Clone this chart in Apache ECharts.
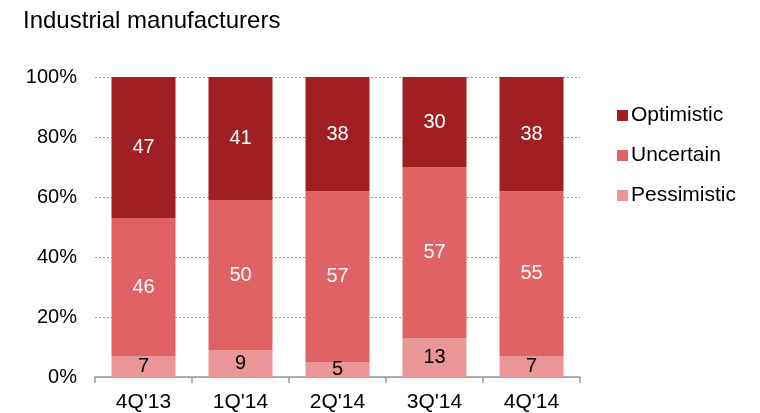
<!DOCTYPE html>
<html>
<head>
<meta charset="utf-8">
<script src="https://cdn.jsdelivr.net/npm/echarts@6/dist/echarts.min.js"></script>
<style>
  html, body { margin: 0; padding: 0; background: #fff; }
  #chart { width: 760px; height: 413px; }
</style>
</head>
<body>
<div id="chart"></div>
<script>
// Industrial manufacturers outlook by quarter (share of respondents, %)
const quarters = ["4Q'13", "1Q'14", "2Q'14", "3Q'14", "4Q'14"];
const pessimistic = [7, 9, 5, 13, 7];
const uncertain = [46, 50, 57, 57, 55];
const optimistic = [47, 41, 38, 30, 38];
const yTicks = [0, 20, 40, 60, 80, 100];

const FONT = 'Liberation Sans, Arial, sans-serif';
const COLORS = { opt: '#9F1F22', unc: '#DF6265', pes: '#EA9597' };

function barSeries(name, data, color, labelColor) {
  return {
    name: name,
    type: 'bar',
    stack: 'total',
    barWidth: 64,
    data: data,
    itemStyle: { color: color },
    label: {
      show: true,
      position: 'inside',
      color: labelColor,
      fontFamily: FONT,
      fontSize: 20
    },
    emphasis: { disabled: true }
  };
}

const chart = echarts.init(document.getElementById('chart'), null, { renderer: 'canvas' });
chart.setOption({
  animation: false,
  title: {
    text: 'Industrial manufacturers',
    left: 18,
    top: 4,
    textStyle: { fontFamily: FONT, fontSize: 24, fontWeight: 'normal', color: '#000' }
  },
  legend: {
    orient: 'vertical',
    left: 612,
    top: 100,
    itemWidth: 11,
    itemHeight: 11,
    itemGap: 19,
    icon: 'rect',
    data: ['Optimistic', 'Uncertain', 'Pessimistic'],
    textStyle: { fontFamily: FONT, fontSize: 21, color: '#000', padding: [0, 0, 0, -2], lineHeight: 20 }
  },
  grid: { left: 95, right: 180, top: 77, bottom: 36 },
  xAxis: {
    type: 'category',
    data: quarters,
    axisLine: { lineStyle: { color: '#999999', width: 1.5 } },
    axisTick: { show: true, length: 6, lineStyle: { color: '#999999', width: 1.5 } },
    axisLabel: { color: '#000', fontFamily: FONT, fontSize: 21, margin: 15 }
  },
  yAxis: {
    type: 'value',
    min: yTicks[0],
    max: yTicks[yTicks.length - 1],
    interval: 20,
    axisLine: { show: false },
    axisTick: { show: false },
    axisLabel: { formatter: '{value}%', color: '#000', fontFamily: FONT, fontSize: 20, margin: 18 },
    splitLine: { lineStyle: { color: '#9a9a9a', type: [2, 2], width: 1 } }
  },
  series: [
    barSeries('Pessimistic', pessimistic, COLORS.pes, '#000'),
    barSeries('Uncertain', uncertain, COLORS.unc, '#fff'),
    barSeries('Optimistic', optimistic, COLORS.opt, '#fff')
  ]
});
</script>
</body>
</html>
